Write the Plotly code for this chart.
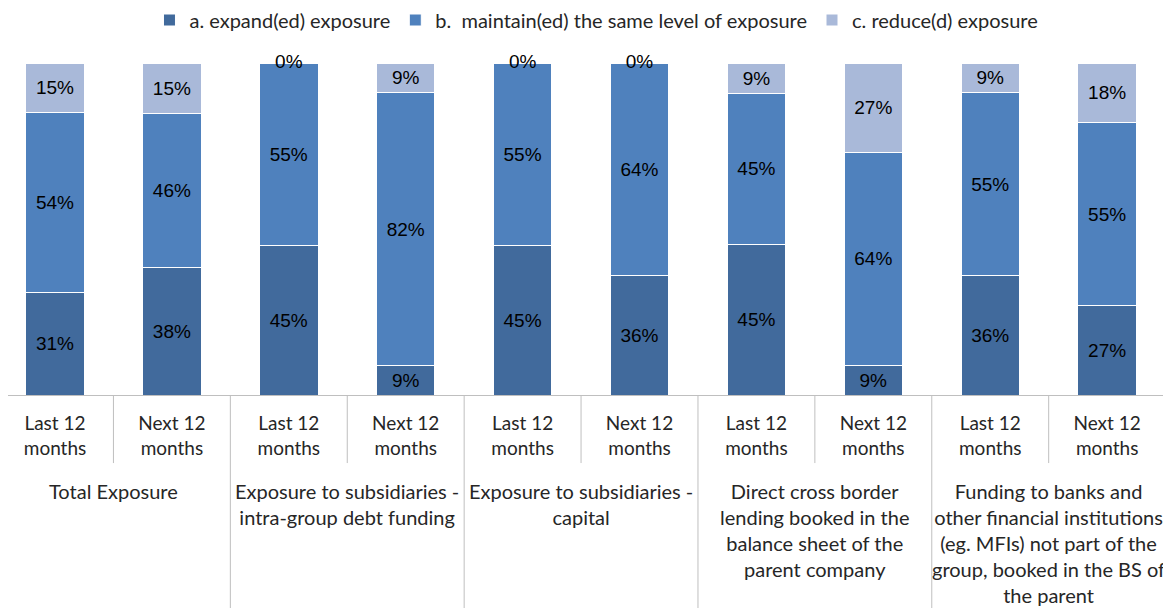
import plotly.graph_objects as go

groups = [
    "Total Exposure",
    "Exposure to subsidiaries -<br>intra-group debt funding",
    "Exposure to subsidiaries -<br>capital",
    "Direct cross border<br>lending booked in the<br>balance sheet of the<br>parent company",
    "Funding to banks and<br>other financial institutions<br>(eg. MFIs) not part of the<br>group, booked in the BS of<br>the parent",
]
periods = ["Last 12<br>months", "Next 12<br>months"]

expand = [31, 38, 45, 9, 45, 36, 45, 9, 36, 27]
maintain = [54, 46, 55, 82, 55, 64, 45, 64, 55, 55]
reduce = [15, 15, 0, 9, 0, 0, 9, 27, 9, 18]

series_names = [
    "a. expand(ed) exposure",
    "b.  maintain(ed) the same level of exposure",
    "c. reduce(d) exposure",
]
colors = ["#416A9C", "#4F81BD", "#A9B9D9"]

n_per = len(periods)
pos = list(range(len(groups) * n_per))
tick_text = [p for _ in groups for p in periods]

label_font = dict(family="Liberation Sans, Arial", size=19, color="#000000")
cat_font = "Lato, Calibri, sans-serif"

# the page body adds an 8px margin, so the figure is drawn 8px smaller
W, H = 1163, 600

fig = go.Figure()
for name, vals, col in zip(series_names, [expand, maintain, reduce], colors):
    fig.add_trace(go.Bar(
        x=pos,
        y=vals,
        name=name,
        width=0.5,
        marker=dict(color=col, line=dict(color="white", width=1)),
        text=[f"{v}%" if v else "" for v in vals],
        textposition="inside",
        insidetextanchor="middle",
        textangle=0,
        textfont=label_font,
        hoverinfo="skip",
    ))

# 0% labels sit on the top edge of the bar, as in the source
zero_idx = [i for i, v in enumerate(reduce) if v == 0]
fig.add_trace(go.Scatter(
    x=[pos[i] for i in zero_idx],
    y=[100] * len(zero_idx),
    mode="text",
    text=["0%"] * len(zero_idx),
    textposition="middle center",
    textfont=label_font,
    showlegend=False,
    cliponaxis=False,
    hoverinfo="skip",
))

# category separators below the axis
for b in range(1, len(pos)):
    group_edge = b % n_per == 0
    fig.add_shape(
        type="line", xref="x", yref="paper",
        x0=b - 0.5, x1=b - 0.5,
        y0=0, y1=-0.642 if group_edge else -0.205,
        line=dict(color="#BFBFBF", width=1),
    )

# group labels
for g, label in enumerate(groups):
    fig.add_annotation(
        x=g * n_per + (n_per - 1) / 2, xref="x",
        y=-0.247, yref="paper",
        yanchor="top", xanchor="center",
        text=label, showarrow=False, align="center",
        font=dict(family=cat_font, size=20, color="#262626"),
    )

fig.update_layout(
    barmode="stack",
    barnorm="percent",
    width=W,
    height=H,
    margin=dict(l=0, r=6, t=55, b=213),
    plot_bgcolor="white",
    paper_bgcolor="white",
    font=dict(family=cat_font, size=18, color="#262626"),
    legend=dict(
        orientation="h",
        traceorder="normal",
        xref="container", yref="container",
        x=0.506, xanchor="center",
        y=0.98, yanchor="middle",
        font=dict(family=cat_font, size=20, color="#262626"),
        itemwidth=30,
    ),
    showlegend=True,
)

fig.update_xaxes(
    range=[-0.402, len(pos) - 0.505],
    tickvals=pos,
    ticktext=tick_text,
    ticks="",
    ticklabelstandoff=11,
    showline=True,
    linecolor="#BFBFBF",
    linewidth=1,
    showgrid=False,
    zeroline=False,
    tickfont=dict(family=cat_font, size=19, color="#262626"),
)
fig.update_yaxes(range=[0, 100.001], visible=False, showgrid=False)

fig.write_html("out.html")
